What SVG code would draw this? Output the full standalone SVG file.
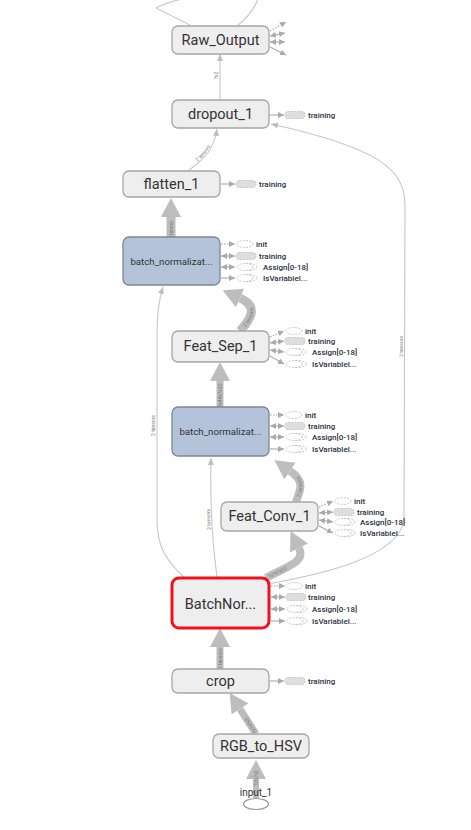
<svg xmlns="http://www.w3.org/2000/svg" width="471" height="830" viewBox="0 0 471 830">
<defs>
<style>
.n{fill:#eeeeee;stroke:#a6a6a6;stroke-width:1.3}
.b{fill:#b4c3d9;stroke:#7f8793;stroke-width:1.3}
.r{fill:#eeeeee;stroke:#f3101c;stroke-width:3}
.t{font-family:Roboto,"Liberation Sans",sans-serif;font-size:14.5px;fill:#333;text-anchor:middle;dominant-baseline:central}
.ts{font-size:9.7px}
.th{fill:none;stroke:#bdbdbd}
.tn{fill:none;stroke:#c6c6c6;stroke-width:1.1}
.el{font-family:Roboto,"Liberation Sans",sans-serif;font-size:5px;fill:#777}
.sl{fill:none;stroke:#aaaaaa;stroke-width:1.1}
.dot{stroke-dasharray:1.6 1.4}
.se{fill:#fff;stroke:#c2c2c2;stroke-width:0.9;stroke-dasharray:2 1.2}
.sr{fill:#dedede;stroke:#c2c2c2;stroke-width:0.9;stroke-dasharray:2 1.2}
.lb{font-family:Roboto,"Liberation Sans",sans-serif;font-size:8px;fill:#2b3040;font-weight:500;dominant-baseline:central}
</style>
<marker id="ta" markerUnits="userSpaceOnUse" markerWidth="19" markerHeight="22" viewBox="0 -11 19 22" refX="0" refY="0" orient="auto"><path d="M0 -10 L19 0 L0 10 z" fill="#bdbdbd"/></marker>
<marker id="na" markerUnits="userSpaceOnUse" markerWidth="7" markerHeight="6" viewBox="0 -3 7 6" refX="7" refY="0" orient="auto"><path d="M0 -3 L7 0 L0 3 z" fill="#bdbdbd"/></marker>
<marker id="sa" markerUnits="userSpaceOnUse" markerWidth="6" markerHeight="6" viewBox="0 -3 6 6" refX="6" refY="0" orient="auto"><path d="M0 -3 L6 0 L0 3 z" fill="#aaaaaa"/></marker>
<marker id="sb" markerUnits="userSpaceOnUse" markerWidth="6" markerHeight="6" viewBox="0 -3 6 6" refX="6" refY="0" orient="auto-start-reverse"><path d="M0 -3 L6 0 L0 3 z" fill="#aaaaaa"/></marker>
<path id="e1l" d="M256 786 L256 762"/>
</defs>
<rect width="471" height="830" fill="#fff"/>

<g id="connectors">
<path id="e1" class="th" stroke-width="6" d="M256 798 L256 779" marker-end="url(#ta)"/>
<path id="e2" class="th" stroke-width="7" d="M256 734 L240 709" marker-end="url(#ta)"/>
<path id="e3" class="th" stroke-width="7" d="M220 669 L220 647" marker-end="url(#ta)"/>
<path id="e4" class="th" stroke-width="8" d="M266 578 C288 566 306 562 299 548" marker-end="url(#ta)"/>
<path id="e5" class="th" stroke-width="8" d="M296 502 C300 490 306 482 290 471" marker-end="url(#ta)"/>
<path id="e6" class="th" stroke-width="7" d="M220 407 L220 381" marker-end="url(#ta)"/>
<path id="e7" class="th" stroke-width="9" d="M240 331 C252 318 258 306 240 298" marker-end="url(#ta)"/>
<path id="e8" class="th" stroke-width="9" d="M171 237 L171 217" marker-end="url(#ta)"/>
<path id="t1" class="tn" d="M220 100 L220 54" marker-end="url(#na)"/>
<path id="t2" class="tn" d="M188 171 C205 158 214 150 217 129" marker-end="url(#na)"/>
<path id="t3" class="tn" d="M268 584 C310 576 398 560 404 520 L405 205 C405 170 380 148 271 124" marker-end="url(#na)"/>
<path id="t4" class="tn" d="M217 577 C212 540 210 500 211 458" marker-end="url(#na)"/>
<path id="t5" class="tn" d="M184 577 C165 560 157 545 157 520 L157 340 C157 312 159 300 163 287" marker-end="url(#na)"/>
<path class="tn" d="M190 25 L156 8 Q165 3 182 -1"/>
<path class="tn" d="M238 25 Q252 14 258 -1"/>
<path class="sl dot" stroke="#c8c8c8" d="M270 31 L286 22" marker-end="url(#sa)"/>
<path class="sl" d="M270 36 L285 33" marker-start="url(#sb)" marker-end="url(#sa)"/>
<path class="sl" d="M270 42 L285 42" marker-start="url(#sb)" marker-end="url(#sa)"/>
<path class="sl" d="M270 47 L286 55" marker-end="url(#sa)"/>
<text class="el" style="font-size:4.5px" dy="1.6"><textPath href="#e1l" startOffset="0%">?x?x?x3</textPath></text>
<text class="el" dy="1.8"><textPath href="#e2" startOffset="5%">?x?x?x3</textPath></text>
<text class="el" dy="1.8"><textPath href="#e3" startOffset="0%">2 tensors</textPath></text>
<text class="el" dy="1.8"><textPath href="#e4" startOffset="5%">?x?x?x32</textPath></text>
<text class="el" dy="1.8"><textPath href="#e5" startOffset="15%">2 tensors</textPath></text>
<text class="el" dy="1.8"><textPath href="#e6" startOffset="0%">?x44x?x32</textPath></text>
<text class="el" dy="1.8"><textPath href="#e7" startOffset="15%">2 tensors</textPath></text>
<text class="el" dy="1.8"><textPath href="#e8" startOffset="10%">tensor</textPath></text>
<text class="el" dy="-1.5"><textPath href="#t1" startOffset="45%">?x2</textPath></text>
<text class="el" dy="-1.5"><textPath href="#t2" startOffset="25%">2 tensors</textPath></text>
<text class="el" dy="-1.5"><textPath href="#t3" startOffset="50%">2 tensors</textPath></text>
<text class="el" dy="-1.5"><textPath href="#t4" startOffset="40%">2 tensors</textPath></text>
<text class="el" dy="-1.5"><textPath href="#t5" startOffset="50%">2 tensors</textPath></text>
</g>

<g id="Raw_Output"><rect class="n" x="172" y="26" width="97" height="28" rx="6"/><text class="t" x="220.5" y="40">Raw_Output</text></g>

<g id="dropout_1"><rect class="n" x="172" y="100" width="97" height="28" rx="6"/><text class="t" x="220.5" y="114">dropout_1</text>
<path class="sl" d="M270 115 L284 115" marker-end="url(#sa)"/><rect class="sr" x="285" y="111.5" width="20" height="7" rx="3"/><text class="lb" x="308" y="115">training</text></g>

<g id="flatten_1"><rect class="n" x="123" y="171" width="97" height="26" rx="6"/><text class="t" x="171.5" y="184">flatten_1</text>
<path class="sl" d="M221 184 L235 184" marker-end="url(#sa)"/><rect class="sr" x="236" y="180.5" width="20" height="7" rx="3"/><text class="lb" x="259" y="184">training</text></g>

<g id="batch_normalization_top"><rect class="b" x="123" y="237" width="97" height="48" rx="6"/><text class="t ts" x="171.5" y="261.5">batch_normalizat...</text>
<g transform="translate(220,0)">
<path class="sl dot" d="M1 244 L15 244" marker-end="url(#sa)"/><ellipse class="se" cx="25" cy="244" rx="8" ry="3.5"/><text class="lb" x="36" y="244">init</text>
<path class="sl" d="M1 256 L15 256" marker-start="url(#sb)" marker-end="url(#sa)"/><rect class="sr" x="16" y="252.5" width="20" height="7" rx="3"/><text class="lb" x="39" y="256">training</text>
<path class="sl" d="M1 267 L15 267" marker-start="url(#sb)" marker-end="url(#sa)"/><ellipse class="se" cx="29" cy="267" rx="8" ry="3.5"/><ellipse class="se" cx="25" cy="267" rx="8" ry="3.5"/><text class="lb" x="43" y="267">Assign[0-18]</text>
<path class="sl" d="M1 278 L15 278" marker-end="url(#sa)"/><ellipse class="se" cx="29" cy="278" rx="8" ry="3.5"/><ellipse class="se" cx="25" cy="278" rx="8" ry="3.5"/><text class="lb" x="43" y="278">IsVariablel...</text>
</g></g>

<g id="Feat_Sep_1"><rect class="n" x="172" y="331" width="97" height="31" rx="6"/><text class="t" x="220.5" y="346.5">Feat_Sep_1</text>
<g transform="translate(269,0)">
<path class="sl dot" d="M1 337 L15 331" marker-end="url(#sa)"/><ellipse class="se" cx="25" cy="331" rx="8" ry="3.5"/><text class="lb" x="36" y="331">init</text>
<path class="sl" d="M1 343 L15 341" marker-start="url(#sb)" marker-end="url(#sa)"/><rect class="sr" x="16" y="337.5" width="20" height="7" rx="3"/><text class="lb" x="39" y="341">training</text>
<path class="sl" d="M1 350 L15 352" marker-start="url(#sb)" marker-end="url(#sa)"/><ellipse class="se" cx="29" cy="352" rx="8" ry="3.5"/><ellipse class="se" cx="25" cy="352" rx="8" ry="3.5"/><text class="lb" x="43" y="352">Assign[0-18]</text>
<path class="sl" d="M1 356 L15 364" marker-end="url(#sa)"/><ellipse class="se" cx="29" cy="364" rx="8" ry="3.5"/><ellipse class="se" cx="25" cy="364" rx="8" ry="3.5"/><text class="lb" x="43" y="364">IsVariablel...</text>
</g></g>

<g id="batch_normalization_mid"><rect class="b" x="172" y="407" width="97" height="49" rx="6"/><text class="t ts" x="220.5" y="431.5">batch_normalizat...</text>
<g transform="translate(269,0)">
<path class="sl dot" d="M1 415 L15 415" marker-end="url(#sa)"/><ellipse class="se" cx="25" cy="415" rx="8" ry="3.5"/><text class="lb" x="36" y="415">init</text>
<path class="sl" d="M1 426 L15 426" marker-start="url(#sb)" marker-end="url(#sa)"/><rect class="sr" x="16" y="422.5" width="20" height="7" rx="3"/><text class="lb" x="39" y="426">training</text>
<path class="sl" d="M1 437 L15 437" marker-start="url(#sb)" marker-end="url(#sa)"/><ellipse class="se" cx="29" cy="437" rx="8" ry="3.5"/><ellipse class="se" cx="25" cy="437" rx="8" ry="3.5"/><text class="lb" x="43" y="437">Assign[0-18]</text>
<path class="sl" d="M1 449 L15 449" marker-end="url(#sa)"/><ellipse class="se" cx="29" cy="449" rx="8" ry="3.5"/><ellipse class="se" cx="25" cy="449" rx="8" ry="3.5"/><text class="lb" x="43" y="449">IsVariablel...</text>
</g></g>

<g id="Feat_Conv_1"><rect class="n" x="221" y="502" width="97" height="29" rx="6"/><text class="t" x="269.5" y="516.5">Feat_Conv_1</text>
<g transform="translate(318,0)">
<path class="sl dot" d="M1 507 L15 501" marker-end="url(#sa)"/><ellipse class="se" cx="25" cy="501" rx="8" ry="3.5"/><text class="lb" x="36" y="501">init</text>
<path class="sl" d="M1 513 L15 512" marker-start="url(#sb)" marker-end="url(#sa)"/><rect class="sr" x="16" y="508.5" width="20" height="7" rx="3"/><text class="lb" x="39" y="512">training</text>
<path class="sl" d="M1 520 L15 522" marker-start="url(#sb)" marker-end="url(#sa)"/><ellipse class="se" cx="29" cy="522" rx="8" ry="3.5"/><ellipse class="se" cx="25" cy="522" rx="8" ry="3.5"/><text class="lb" x="42" y="522">Assign[0-18]</text>
<path class="sl" d="M1 526 L15 533" marker-end="url(#sa)"/><ellipse class="se" cx="29" cy="533" rx="8" ry="3.5"/><ellipse class="se" cx="25" cy="533" rx="8" ry="3.5"/><text class="lb" x="42" y="533">IsVariablel...</text>
</g></g>

<g id="BatchNor"><rect class="r" x="172" y="578" width="97" height="50" rx="7"/><text class="t" x="220.5" y="604">BatchNor...</text>
<g transform="translate(270,0)">
<path class="sl dot" d="M1 586 L15 586" marker-end="url(#sa)"/><ellipse class="se" cx="24" cy="586" rx="8" ry="3.5"/><text class="lb" x="35" y="586">init</text>
<path class="sl" d="M1 597 L15 597" marker-start="url(#sb)" marker-end="url(#sa)"/><rect class="sr" x="16" y="593.5" width="20" height="7" rx="3"/><text class="lb" x="38" y="597">training</text>
<path class="sl" d="M1 609 L15 609" marker-start="url(#sb)" marker-end="url(#sa)"/><ellipse class="se" cx="29" cy="609" rx="8" ry="3.5"/><ellipse class="se" cx="25" cy="609" rx="8" ry="3.5"/><text class="lb" x="42" y="609">Assign[0-18]</text>
<path class="sl" d="M1 621 L15 621" marker-end="url(#sa)"/><ellipse class="se" cx="29" cy="621" rx="8" ry="3.5"/><ellipse class="se" cx="25" cy="621" rx="8" ry="3.5"/><text class="lb" x="42" y="621">IsVariablel...</text>
</g></g>

<g id="crop"><rect class="n" x="172" y="669" width="97" height="24" rx="6"/><text class="t" x="220.5" y="681">crop</text>
<path class="sl" d="M270 681 L284 681" marker-end="url(#sa)"/><rect class="sr" x="285" y="677.5" width="20" height="7" rx="3"/><text class="lb" x="308" y="681">training</text></g>

<g id="RGB_to_HSV"><rect class="n" x="213" y="734" width="96" height="24" rx="6"/><text class="t" x="261" y="746">RGB_to_HSV</text></g>

<g id="input_1"><ellipse cx="256" cy="804" rx="12.5" ry="5.5" fill="#fff" stroke="#999" stroke-width="1.2"/><text class="t" style="font-size:10px" x="256" y="792">input_1</text></g>
</svg>
